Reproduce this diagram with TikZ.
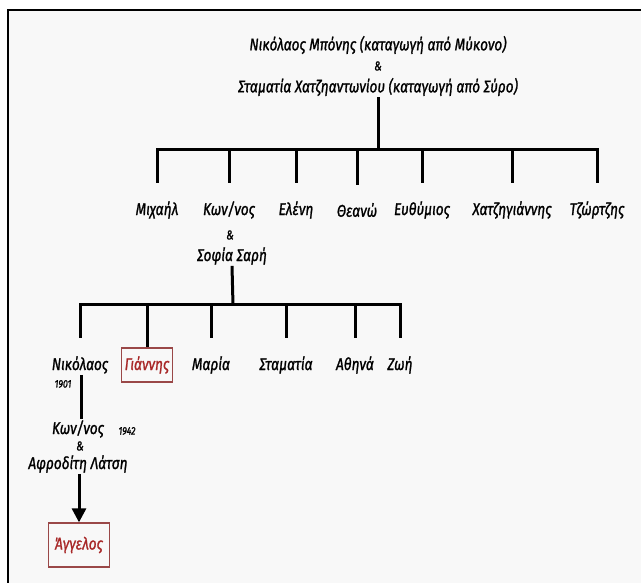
\documentclass[tikz,border=0pt]{standalone}
\usepackage{fontspec}
\setmainfont{Fira Sans}[FakeStretch=0.8, FakeBold=1.2]
\usetikzlibrary{arrows.meta}

\definecolor{paper}{HTML}{F8F8F8}
\definecolor{boxred}{HTML}{9A4848}
\definecolor{namered}{HTML}{A82828}

\begin{document}
\begin{tikzpicture}[x=1pt, y=-1pt,
    every node/.style={font=\fontsize{17}{17}\selectfont\itshape, inner sep=1pt},
    small/.style={font=\fontsize{11}{11}\selectfont\itshape},
    amp/.style={font=\fontsize{13}{13}\selectfont\itshape, inner sep=0pt},
    branch/.style={line width=3pt, shorten >=17pt},
    stem/.style={line width=3pt},
    marked/.style={draw=boxred, line width=1.3pt, text=namered, inner sep=3pt}]
    \useasboundingbox (0,0) rectangle (641,583);
    \fill[paper] (8,10) rectangle (641,583);
    \draw[line width=2pt] (8,583) -- (8,10) -- (641,10);

    % first generation
    \node (parents) at (378,45) {Νικόλαος Μπόνης (καταγωγή από Μύκονο)};
    \node[amp] (amp1) at (378,66) {\&};
    \node (parents2) at (378,87) {Σταματία Χατζηαντωνίου (καταγωγή από Σύρο)};
    \coordinate (j1) at (378,150);

    % children
    \node (mihail) at (157,210) {Μιχαήλ};
    \node (konnos) at (229,210) {Κων/νος};
    \node (eleni) at (296,210) {Ελένη};
    \node (theano) at (357,210) {Θεανώ};
    \node (evthymios) at (422,210) {Ευθύμιος};
    \node (hatzigiannis) at (512,210) {Χατζηγιάννης};
    \node (tzortzis) at (597,210) {Τζώρτζης};
    \node[amp] (amp2) at (230,235) {\&};
    \node (sofia) at (232,256) {Σοφία Σαρή};
    \coordinate (j2) at (233,305);

    % grandchildren
    \node (nikolaos) at (80,365) {Νικόλαος};
    \node[small] (y1901) at (63,384) {1901};
    \node[marked, minimum width=51pt, minimum height=34pt] (giannis) at (147,365) {Γιάννης};
    \node (maria) at (211,365) {Μαρία};
    \node (stamatia) at (286,365) {Σταματία};
    \node (athina) at (355,365) {Αθηνά};
    \node (zoi) at (400,365) {Ζωή};

    \node (konnos2) at (78,429) {Κων/νος};
    \node[small] (y1942) at (127,431) {1942};
    \node[amp] (amp3) at (80,446) {\&};
    \node (afroditi) at (78,464) {Αφροδίτη Λάτση};
    \node[marked, minimum width=61pt, minimum height=44pt] (angelos) at (79,545) {Άγγελος};

    \draw[stem] (parents2.south) -- (j1);
    \foreach \child in {mihail, konnos, eleni, theano, evthymios, hatzigiannis, tzortzis}
        \draw[branch] (j1) -| (\child.north);

    \draw[stem] (sofia.south) -- (j2);
    \foreach \child in {nikolaos, maria, stamatia, athina, zoi}
        \draw[branch] (j2) -| (\child.north);
    \draw[stem] (j2) -| (giannis.north);

    \draw[stem] (nikolaos.south -| 81,0) -- (konnos2.north -| 81,0);
    \draw[stem, -{Triangle[length=14pt, width=14pt]}] (afroditi.south -| 79,0) -- (angelos.north -| 79,0);
\end{tikzpicture}
\end{document}
